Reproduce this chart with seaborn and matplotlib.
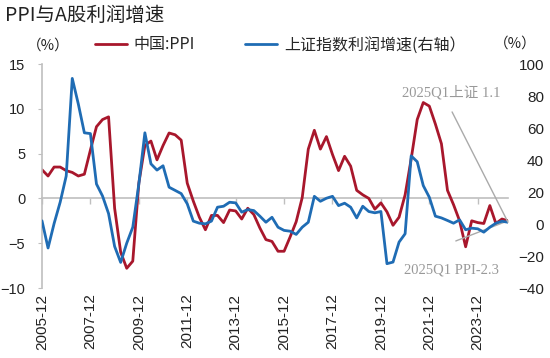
import matplotlib
matplotlib.use("Agg")
import matplotlib.pyplot as plt
import seaborn as sns
import numpy as np
import pandas as pd

# ---- data ----
quarters = pd.period_range("2005Q4", "2025Q1", freq="Q")
ppi = [3.2, 2.5, 3.5, 3.5, 3.1, 2.9, 2.5, 2.7, 5.4, 8.0, 8.8, 9.1, -1.1, -6.0, -7.8, -7.0,
       1.7, 5.9, 6.4, 4.3, 5.9, 7.3, 7.1, 6.5, 1.7, -0.3, -2.1, -3.5, -1.9, -1.9, -2.7, -1.3,
       -1.4, -2.3, -1.1, -1.8, -3.3, -4.6, -4.8, -5.9, -5.9, -4.3, -2.6, 0.1, 5.5, 7.6, 5.5, 6.9,
       4.9, 3.1, 4.7, 3.6, 0.9, 0.4, 0.0, -1.2, -0.5, -1.5, -3.0, -2.1, 0.4, 4.4, 8.8, 10.7,
       10.3, 8.3, 6.1, 0.9, -0.7, -2.5, -5.4, -2.5, -2.7, -2.8, -0.8, -2.8, -2.3, -2.5]
profit = [2.0, -15.0, 0.3, 13.6, 30.0, 91.0, 75.0, 57.0, 56.5, 25.0, 17.5, 6.5, -14.0, -24.0, -12.0, -2.0,
          25.0, 57.0, 37.6, 33.7, 36.4, 23.0, 21.0, 19.0, 12.6, 1.8, 0.5, 0.1, 1.8, 10.5, 11.1, 13.6,
          13.2, 7.4, 9.0, 8.4, 4.9, 1.1, 4.2, -2.0, -4.0, -4.5, -6.5, -2.0, 1.1, 17.3, 14.2, 16.1,
          17.3, 11.5, 13.0, 10.5, 3.8, 11.1, 7.8, 7.0, 7.8, -24.8, -23.8, -11.3, -6.1, 42.6, 38.9, 24.0,
          16.7, 4.9, 3.8, 2.2, 0.5, 2.6, -3.6, -2.6, -3.0, -5.1, -2.0, 0.5, 1.7, 1.1]
tick_labels = ["2005-12", "2007-12", "2009-12", "2011-12", "2013-12",
               "2015-12", "2017-12", "2019-12", "2021-12", "2023-12"]
title = "PPI与A股利润增速"
ppi_name = "中国:PPI"
profit_name = "上证指数利润增速(右轴）"
note_profit = "2025Q1上证 1.1"
note_ppi = "2025Q1 PPI-2.3"

df = pd.DataFrame({"idx": np.arange(len(quarters)), "ppi": ppi, "profit": profit})

RED = "#A8172C"
BLUE = "#1F6CB4"
GRAY = "#BFBFBF"

sns.set_style("white")
plt.rcParams["font.family"] = ["Liberation Sans", "Noto Sans CJK SC", "DejaVu Sans"]

fig = plt.figure(figsize=(5.5, 3.58), dpi=100)
ax = fig.add_axes([42 / 550, 1 - 288 / 358, 466 / 550, 224 / 358])
ax2 = ax.twinx()

sns.lineplot(data=df, x="idx", y="ppi", ax=ax, color=RED, lw=2.0, label=ppi_name, legend=False)
sns.lineplot(data=df, x="idx", y="profit", ax=ax2, color=BLUE, lw=2.0, label=profit_name, legend=False)

ax.set_xlim(0, len(quarters) - 1)
ax.set_ylim(-10, 15)
ax.set_yticks([-10, -5, 0, 5, 10, 15])
ax2.set_ylim(-40, 100)
ax2.set_yticks(np.arange(-40, 101, 20))

# x tick labels at the bottom, tick marks on the zero line
xt = np.arange(0, len(quarters), 8)
ax.set_xticks(xt)
ax.set_xticklabels(tick_labels, rotation=90, fontsize=11, color="#222222")
ax.tick_params(axis="x", length=0, pad=4)
sec = ax.secondary_xaxis(0.4)
sec.set_xticks(xt)
sec.set_xticklabels([])
sec.tick_params(axis="x", direction="out", length=4, color=GRAY, width=1)
sec.spines["bottom"].set_color(GRAY)
sec.spines["bottom"].set_linewidth(1.2)

for a in (ax, ax2):
    for s in ("top", "right", "bottom"):
        a.spines[s].set_visible(False)
ax2.spines["left"].set_visible(False)
ax.spines["left"].set_color(GRAY)
ax.spines["left"].set_linewidth(1.2)
ax.tick_params(axis="y", length=3, color=GRAY, labelsize=10.5, labelcolor="#222222", pad=9)
ax2.tick_params(axis="y", length=0, labelsize=11, labelcolor="#222222", pad=26)
for lab in ax2.get_yticklabels():
    lab.set_horizontalalignment("right")
ax.set_xlabel("")
ax.set_ylabel("")
ax2.set_ylabel("")
ax.grid(False)
ax2.grid(False)

# title and unit labels
fig.text(5 / 550, 1 - 15 / 358, title, fontsize=14, ha="left", va="center",
         family=["Noto Sans CJK SC", "DejaVu Sans"], color="#222222")
fig.text(27 / 550, 1 - 46 / 358, "（%）", fontsize=10.5, ha="left", va="center",
         family=["Noto Sans CJK SC", "DejaVu Sans"], color="#222222")
fig.text(494 / 550, 1 - 44 / 358, "（%）", fontsize=10.5, ha="left", va="center",
         family=["Noto Sans CJK SC", "DejaVu Sans"], color="#222222")

# legend
h1, l1 = ax.get_legend_handles_labels()
h2, l2 = ax2.get_legend_handles_labels()
fig.legend(h1 + h2, l1 + l2, loc="center", bbox_to_anchor=(280 / 550, 1 - 45 / 358), ncol=2,
           frameon=False, handlelength=2.0, handletextpad=0.4, columnspacing=3.2,
           prop={"family": ["Noto Sans CJK SC", "DejaVu Sans"], "size": 11.5})

# annotations
ann_font = {"family": ["Liberation Serif", "Noto Sans CJK SC"], "size": 10.5, "color": "#999999"}
ax2.annotate("", xy=(df["idx"].iloc[-1], profit[-1]), xycoords="data",
             xytext=(0.880, 0.786), textcoords="axes fraction",
             arrowprops=dict(arrowstyle="-", color="#AAAAAA", lw=1.0, shrinkA=0, shrinkB=0))
ax.annotate("", xy=(df["idx"].iloc[-1], ppi[-1]), xycoords="data",
            xytext=(0.888, 0.210), textcoords="axes fraction",
            arrowprops=dict(arrowstyle="-", color="#AAAAAA", lw=1.0, shrinkA=0, shrinkB=0))
ax2.text(0.773, 0.875, note_profit, transform=ax.transAxes, ha="left", va="center", fontdict=ann_font)
ax2.text(0.777, 0.080, note_ppi, transform=ax.transAxes, ha="left", va="center", fontdict=ann_font)

fig.savefig("out.png", dpi=100)
